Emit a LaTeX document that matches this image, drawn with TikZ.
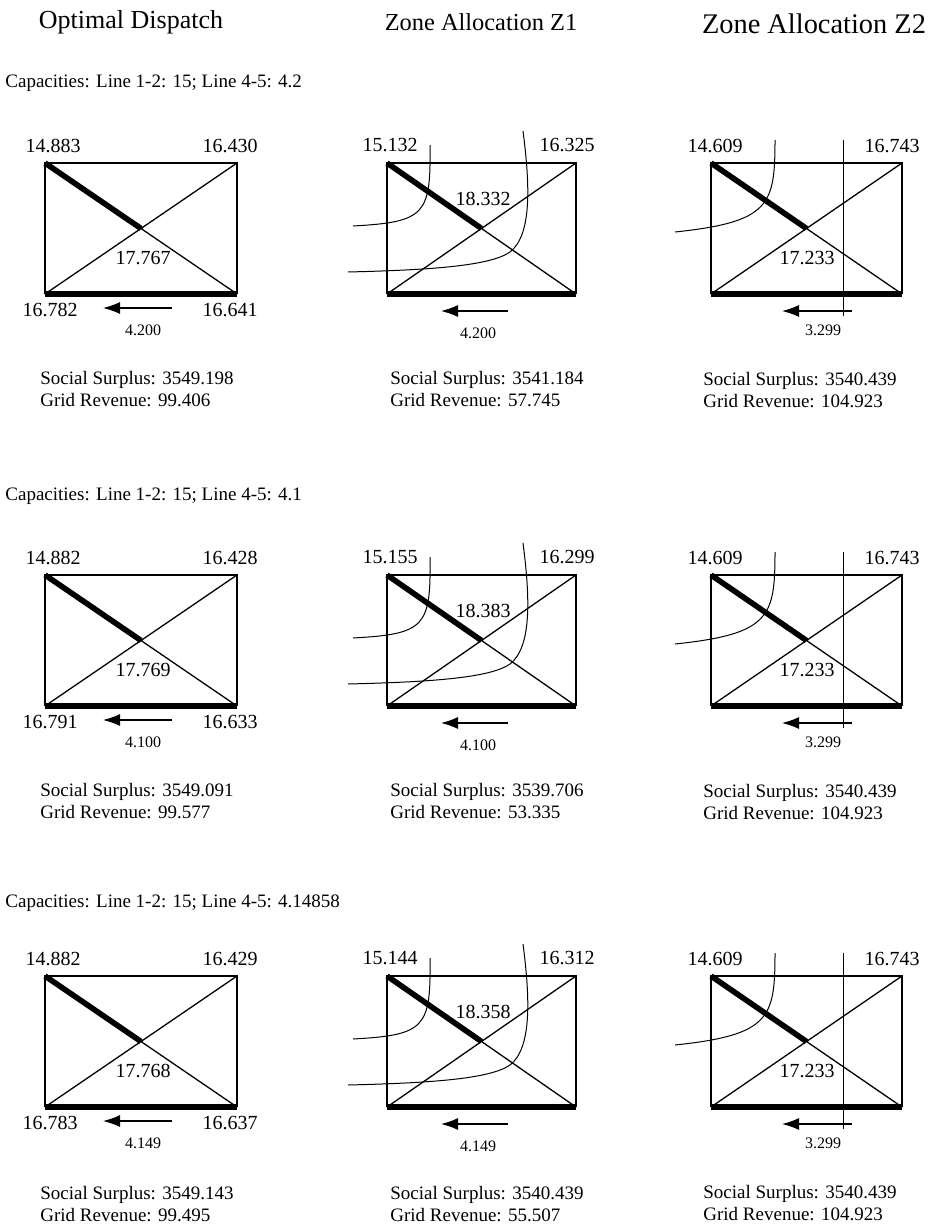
\documentclass[tikz,border=0pt]{standalone}
\usepackage{fontspec}
\setmainfont{Liberation Serif}
\usetikzlibrary{arrows.meta,calc}

\tikzset{
  wire/.style={line width=0.65pt},
  heavy/.style={line width=2.8pt},
  zonecut/.style={line width=0.5pt},
  flowarrow/.style={line width=0.65pt,-{Latex[length=8.5pt,width=6pt]}},
  title/.style={font=\fontsize{12.2}{14}\selectfont,inner sep=0pt},
  caption/.style={font=\fontsize{9.5}{11}\selectfont,inner sep=0pt,anchor=west},
  price/.style={font=\fontsize{10}{12}\selectfont,inner sep=0pt},
  flowlab/.style={font=\fontsize{8}{9}\selectfont,inner sep=0pt},
  result/.style={font=\fontsize{9.5}{11}\selectfont,inner sep=0pt,align=left,anchor=west}
}

\begin{document}
\begin{tikzpicture}[x=0.5pt,y=-0.5pt]
  \useasboundingbox (0,0) rectangle (928,1225);
  \newcommand{\netbox}[4]{
    \coordinate (#1tl) at (#2,#3);
    \coordinate (#1tr) at ({#2+#4},#3);
    \coordinate (#1bl) at (#2,{#3+131});
    \coordinate (#1br) at ({#2+#4},{#3+131});
    \coordinate (#1c) at ($(#1tl)!0.5!(#1br)$);
    \draw[wire] (#1bl) -- (#1tl) -- (#1tr) -- (#1br);
    \draw[wire] (#1bl) -- (#1tr) (#1c) -- (#1br);
    \draw[heavy] (#1tl) -- (#1c);
    \draw[heavy] (#1bl) -- (#1br);}

  \node[title,font=\fontsize{13}{15}\selectfont] (hdod) at (131,22) {Optimal Dispatch};
  \node[title] (hdza) at (481,22) {Zone Allocation Z1};
  \node[title,font=\fontsize{14.2}{16}\selectfont] (hdzb) at (814,24) {Zone Allocation Z2};
  \foreach \r/\dy/\capv in {1/0/4.2,2/413/4.1,3/820/4.14858}{
    \node[caption] (cap\r) at (5,83+\dy) {Capacities: Line 1-2: 15; Line 4-5: \capv};}

  % optimal dispatch
  \foreach \r/\dy/\ty/\pa/\pb/\pc/\pd/\pm/\fl/\ss/\gr in {
      1/0/0/14.883/16.430/16.782/16.641/17.767/4.200/3549.198/99.406,
      2/412/412/14.882/16.428/16.791/16.633/17.769/4.100/3549.091/99.577,
      3/813/815/14.882/16.429/16.783/16.637/17.768/4.149/3549.143/99.495}{
    \netbox{od\r}{45}{163+\dy}{192}
    \node[price] (od\r a) at (53,146+\dy) {\pa};
    \node[price] (od\r b) at (230,146+\dy) {\pb};
    \node[price] (od\r d) at (50,310+\dy) {\pc};
    \node[price] (od\r e) at (230,310+\dy) {\pd};
    \node[price] (od\r m) at (143,258+\dy) {\pm};
    \coordinate (od\r fs) at (172,308+\dy);
    \coordinate (od\r fe) at (103,308+\dy);
    \draw[flowarrow] (od\r fs) -- (od\r fe);
    \node[flowlab] (od\r f) at (143,330+\dy) {\fl};
    \node[result] (od\r res) at (40,389+\ty) {Social Surplus: \ss\\Grid Revenue: \gr};
  }

  % zone allocation Z1
  \foreach \r/\dy/\ty/\pa/\pb/\pm/\fl/\ss/\gr in {
      1/0/0/15.132/16.325/18.332/4.200/3541.184/57.745,
      2/412/412/15.155/16.299/18.383/4.100/3539.706/53.335,
      3/813/815/15.144/16.312/18.358/4.149/3540.439/55.507}{
    \netbox{za\r}{387}{163+\dy}{189}
    \node[price] (za\r a) at (390,145+\dy) {\pa};
    \node[price] (za\r b) at (567,145+\dy) {\pb};
    \node[price] (za\r m) at (483,199+\dy) {\pm};
    \draw[zonecut] (430,145+\dy) .. controls (431,215+\dy) and (425,222+\dy) .. (353,226+\dy);
    \draw[zonecut] (523,131+\dy) .. controls (530,185+\dy) and (532,235+\dy) .. (510,252+\dy)
                   .. controls (490,266+\dy) and (430,270+\dy) .. (348,272+\dy);
    \coordinate (za\r fs) at (508,311+\dy);
    \coordinate (za\r fe) at (441,311+\dy);
    \draw[flowarrow] (za\r fs) -- (za\r fe);
    \node[flowlab] (za\r f) at (478,333+\dy) {\fl};
    \node[result] (za\r res) at (390,389+\ty) {Social Surplus: \ss\\Grid Revenue: \gr};
  }

  % zone allocation Z2
  \foreach \r/\dy/\ty in {1/0/0,2/412/412,3/813/813}{
    \netbox{zb\r}{711}{163+\dy}{191}
    \node[price] (zb\r a) at (715,146+\dy) {14.609};
    \node[price] (zb\r b) at (892,146+\dy) {16.743};
    \node[price] (zb\r m) at (807,258+\dy) {17.233};
    \draw[zonecut] (775,140+\dy) .. controls (775,205+\dy) and (770,222+\dy) .. (675,232+\dy);
    \coordinate (zb\r cuta) at (843,140+\dy);
    \coordinate (zb\r cutb) at (843,316+\dy);
    \draw[zonecut] (zb\r cuta) -- (zb\r cutb);
    \coordinate (zb\r fs) at (852,311+\dy);
    \coordinate (zb\r fe) at (782,311+\dy);
    \draw[flowarrow] (zb\r fs) -- (zb\r fe);
    \node[flowlab] (zb\r f) at (823,330+\dy) {3.299};
    \node[result] (zb\r res) at (703,390+\ty) {Social Surplus: 3540.439\\Grid Revenue: 104.923};
  }
\end{tikzpicture}
\end{document}
